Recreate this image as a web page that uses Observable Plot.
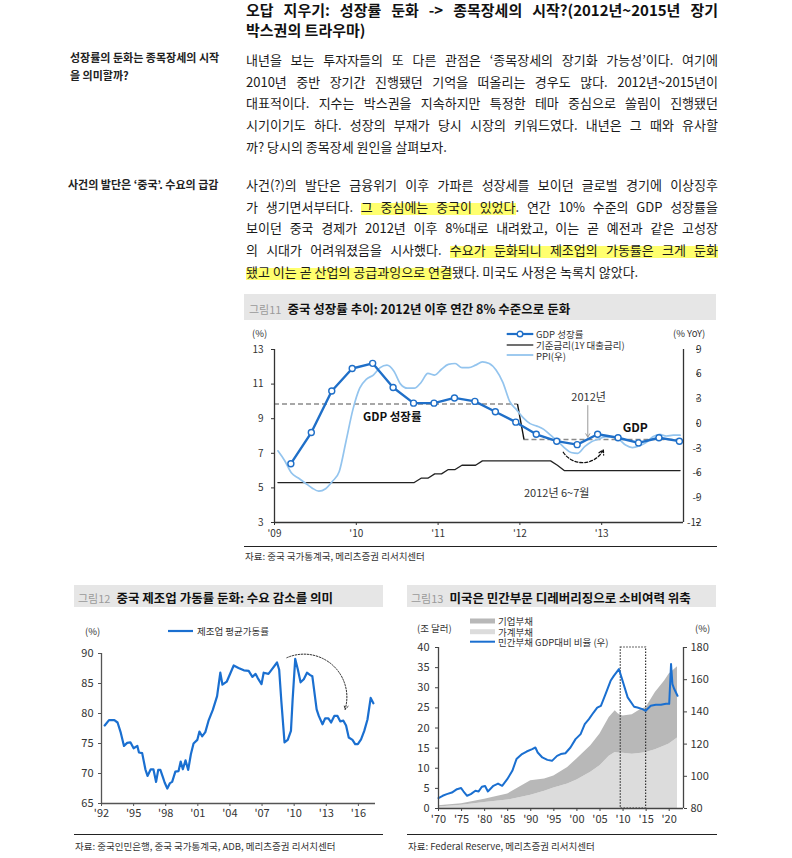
<!DOCTYPE html>
<html><head><meta charset="utf-8">
<script src="https://cdn.jsdelivr.net/npm/d3@7"></script>
<script src="https://cdn.jsdelivr.net/npm/@observablehq/plot@0.6"></script>
<style>
body{margin:0;background:#fff;font-family:"Noto Sans CJK KR","Noto Sans",sans-serif;color:#1a1a1a}
#page{position:relative;width:792px;height:858px;overflow:hidden;background:#fff}
.abs{position:absolute}
.title{left:246px;top:0px;width:472px;font-size:15px;font-weight:700;line-height:19.5px;color:#111}
.jl{text-align:justify;text-align-last:justify;white-space:nowrap}
.side{font-size:11px;font-weight:700;line-height:18.3px;color:#222;white-space:nowrap}
.para{left:246px;width:472px;font-size:13px;line-height:21.67px;color:#1a1a1a}
.para div{white-space:nowrap}
.hl{background:linear-gradient(transparent 30%,#ffff6e 30%,#ffff6e 96%,transparent 96%)}
.band{background:#e6e6e6}
.fig{color:#9a9a9a;font-size:11px}
.ft{font-weight:700;font-size:12.5px;color:#111;margin-left:6px}
.rule{height:0;border-top:1.3px solid #222}
.src{font-size:9.5px;color:#333;white-space:nowrap}
.lg{font-size:9.5px;color:#333;white-space:nowrap;line-height:10px}
</style></head>
<body><div id="page">

<div class="abs title"><div class="jl">오답 지우기: 성장률 둔화 -&gt; 종목장세의 시작?(2012년~2015년 장기</div><div>박스권의 트라우마)</div></div>

<div class="abs side" style="left:70px;top:47.5px">성장률의 둔화는 종목장세의 시작<br>을 의미할까?</div>
<div class="abs side" style="left:68px;top:175px">사건의 발단은 ‘중국’. 수요의 급감</div>

<div class="abs para" style="top:49px">
<div class="jl">내년을 보는 투자자들의 또 다른 관점은 ‘종목장세의 장기화 가능성’이다. 여기에</div>
<div class="jl">2010년 중반 장기간 진행됐던 기억을 떠올리는 경우도 많다. 2012년~2015년이</div>
<div class="jl">대표적이다. 지수는 박스권을 지속하지만 특정한 테마 중심으로 쏠림이 진행됐던</div>
<div class="jl">시기이기도 하다. 성장의 부재가 당시 시장의 키워드였다. 내년은 그 때와 유사할</div>
<div>까? 당시의 종목장세 원인을 살펴보자.</div>
</div>

<div class="abs para" style="top:174px">
<div class="jl">사건(?)의 발단은 금융위기 이후 가파른 성장세를 보이던 글로벌 경기에 이상징후</div>
<div class="jl">가 생기면서부터다. <span class="hl">그 중심에는 중국이 있었다</span>. 연간 10% 수준의 GDP 성장률을</div>
<div class="jl">보이던 중국 경제가 2012년 이후 8%대로 내려왔고, 이는 곧 예전과 같은 고성장</div>
<div class="jl">의 시대가 어려워졌음을 시사했다. <span class="hl">수요가 둔화되니 제조업의 가동률은 크게 둔화</span></div>
<div><span class="hl">됐고 이는 곧 산업의 공급과잉으로 연결</span>됐다. 미국도 사정은 녹록치 않았다.</div>
</div>

<!-- Figure 11 -->
<div class="abs band" style="left:244px;top:294px;width:472px;height:26px;line-height:26px;padding-left:5px;box-sizing:border-box"><span class="fig">그림11</span><span class="ft">중국 성장률 추이: 2012년 이후 연간 8% 수준으로 둔화</span></div>
<div id="c11" class="abs" style="left:244px;top:322px"></div>
<div class="abs lg" style="left:252px;top:328px">(%)</div>
<div class="abs lg" style="left:673px;top:328px">(% YoY)</div>
<svg class="abs" style="left:505px;top:328px" width="32" height="32">
  <line x1="1.7" x2="28.3" y1="6" y2="6" stroke="#1f6fc8" stroke-width="2.2"/>
  <circle cx="15" cy="6" r="2.8" fill="#fff" stroke="#1f6fc8" stroke-width="1.4"/>
  <line x1="1.7" x2="28.3" y1="17" y2="17" stroke="#222" stroke-width="1.3"/>
  <line x1="1.7" x2="28.3" y1="27" y2="27" stroke="#93c4ee" stroke-width="1.8"/>
</svg>
<div class="abs lg" style="left:536px;top:329px">GDP 성장률</div>
<div class="abs lg" style="left:536px;top:340px">기준금리(1Y 대출금리)</div>
<div class="abs lg" style="left:536px;top:350.5px">PPI(우)</div>
<div class="abs rule" style="left:244px;top:546px;width:473px"></div>
<div class="abs src" style="left:245px;top:549px">자료: 중국 국가통계국, 메리츠증권 리서치센터</div>

<!-- Figure 12 -->
<div class="abs band" style="left:74px;top:585px;width:309px;height:22px;line-height:22px;padding-left:4px;box-sizing:border-box"><span class="fig">그림12</span><span class="ft">중국 제조업 가동률 둔화: 수요 감소를 의미</span></div>
<div id="c12" class="abs" style="left:74px;top:620px"></div>
<div class="abs lg" style="left:85px;top:626px">(%)</div>
<svg class="abs" style="left:166px;top:626px" width="30" height="10"><line x1="2" x2="27" y1="5" y2="5" stroke="#1a6fd0" stroke-width="2.2"/></svg>
<div class="abs lg" style="left:197px;top:626px">제조업 평균가동률</div>
<div class="abs rule" style="left:74px;top:834px;width:309px"></div>
<div class="abs src" style="left:75px;top:839px">자료: 중국인민은행, 중국 국가통계국, ADB, 메리츠증권 리서치센터</div>

<!-- Figure 13 -->
<div class="abs band" style="left:407px;top:585px;width:309px;height:22px;line-height:22px;padding-left:4px;box-sizing:border-box"><span class="fig">그림13</span><span class="ft">미국은 민간부문 디레버리징으로 소비여력 위축</span></div>
<div id="c13" class="abs" style="left:406px;top:620px"></div>
<div class="abs lg" style="left:417px;top:623px">(조 달러)</div>
<div class="abs lg" style="left:695px;top:623px">(%)</div>
<svg class="abs" style="left:468px;top:614px" width="30" height="34">
  <rect x="2" y="4.5" width="25" height="5" fill="#b8b8b8"/>
  <rect x="2" y="15.2" width="25" height="5" fill="#dcdcdc"/>
  <line x1="2" x2="27" y1="27.7" y2="27.7" stroke="#1a6fd0" stroke-width="2"/>
</svg>
<div class="abs lg" style="left:498px;top:616px">기업부채</div>
<div class="abs lg" style="left:498px;top:626.7px">가계부채</div>
<div class="abs lg" style="left:498px;top:637px">민간부채 GDP대비 비율 (우)</div>
<div class="abs rule" style="left:407px;top:834px;width:310px"></div>
<div class="abs src" style="left:408px;top:839px">자료: Federal Reserve, 메리츠증권 리서치센터</div>

</div>
<script>
// ---------- Figure 11 data ----------
const gdpQuarters = ["2009Q1","2009Q2","2009Q3","2009Q4","2010Q1","2010Q2","2010Q3","2010Q4",
  "2011Q1","2011Q2","2011Q3","2011Q4","2012Q1","2012Q2","2012Q3","2012Q4","2013Q1","2013Q2","2013Q3","2013Q4"];
const gdpGrowth = [6.4,8.2,10.6,11.9, 12.2,10.8,9.9,9.9, 10.2,10.0,9.4,8.8, 8.1,7.7,7.5,8.1, 7.9,7.6,7.9,7.7];
// monthly, Jan 2009 - Dec 2013
const ppiYoY = [-3.3,-4.5,-6.0,-6.6,-7.2,-7.8,-8.2,-7.9,-7.0,-5.8,-2.1,1.7,
  4.3,5.4,5.9,6.8,7.1,6.4,4.8,4.3,4.3,5.0,6.1,5.9,
  6.6,7.2,7.3,6.8,6.8,7.1,7.5,7.3,6.5,5.0,2.7,1.7,
  0.7,0.0,-0.3,-0.7,-1.4,-2.1,-2.9,-3.5,-3.6,-2.8,-2.2,-1.9,
  -1.6,-1.6,-1.9,-2.6,-2.9,-2.7,-2.3,-1.6,-1.3,-1.5,-1.4,-1.4];
const loanRate = [5.31,5.31,5.31,5.31,5.31,5.31,5.31,5.31,5.31,5.31,5.31,5.31,
  5.31,5.31,5.31,5.31,5.31,5.31,5.31,5.31,5.31,5.56,5.56,5.81,
  5.81,6.06,6.06,6.31,6.31,6.31,6.56,6.56,6.56,6.56,6.56,6.56,
  6.56,6.56,6.56,6.56,6.56,6.31,6.00,6.00,6.00,6.00,6.00,6.00,
  6.00,6.00,6.00,6.00,6.00,6.00,6.00,6.00,6.00,6.00,6.00,6.00];
const avgLevels = [{from:2009, to:2011.97, value:9.85}, {from:2012.05, to:2014, value:7.8}];
const levelShift = [{x1:2011.97, y1:9.85, x2:2012.05, y2:7.8}];
const arrowDown = [{x1:2012.83, y1:9.76, x2:2012.83, y2:7.93}];
const reboundArrow = [{x1:2012.53, y1:7.06, x2:2013.02, y2:7.2}];
const boldNotes11 = [{x:2010.44, y:9.07, text:"GDP 성장률", size:11.5}, {x:2013.41, y:8.45, text:"GDP", size:12}];
const plainNotes11 = [{x:2012.84, y:10.24, text:"2012년"}, {x:2012.45, y:4.66, text:"2012년 6~7월"}];
const xTicks11 = [2009,2010,2011,2012,2013];
const leftTicks11 = [3,5,7,9,11,13];
const rightTicks11 = [-12,-9,-6,-3,0,3,6,9];

// ---------- Figure 12 data ----------
const utilPeriod = [1992.3,1992.7,1993.2,1993.5,1993.8,1994.1,1994.4,1994.7,1995.0,1995.35,1995.5,1995.8,
  1996.1,1996.3,1996.6,1996.85,1997.1,1997.3,1997.5,1997.75,1997.9,1998.15,1998.4,1998.6,1998.9,
  1999.2,1999.4,1999.6,1999.85,2000.1,2000.35,2000.6,2000.95,2001.15,2001.4,2001.7,2002.0,2002.4,
  2002.8,2003.1,2003.3,2003.7,2004.35,2004.8,2005.3,2005.75,2006.1,2006.4,2006.6,2006.95,2007.15,
  2007.6,2007.9,2008.4,2008.6,2008.8,2009.1,2009.4,2009.7,2009.85,2010.1,2010.35,2010.6,2010.9,
  2011.2,2011.5,2011.7,2012.1,2012.3,2012.65,2012.9,2013.2,2013.45,2013.75,2014.05,2014.3,2014.6,
  2014.85,2015.1,2015.45,2015.7,2015.95,2016.25,2016.55,2016.85,2017.15,2017.4];
const utilRate = [78.0,78.9,78.9,78.5,76.8,74.6,75.1,75.2,74.2,74.6,73.5,73.4,
  70.7,69.6,70.7,70.7,68.6,70.6,70.6,69.3,68.5,67.5,68.4,68.6,70.3,
  70.4,72.0,70.7,72.2,70.6,73.2,75.0,75.6,77.0,76.2,76.9,78.8,80.6,
  82.9,86.8,84.8,85.3,88.0,87.6,87.2,87.1,86.1,86.6,85.9,84.9,86.8,
  86.6,87.3,88.5,87.3,82.1,75.2,75.6,77.1,82.1,89.1,87.3,85.2,85.7,
  86.8,86.4,86.2,80.7,79.6,78.2,79.2,79.2,78.5,79.6,79.6,78.7,78.8,
  78.0,76.0,75.6,74.9,74.9,75.7,77.1,79.0,82.6,81.7];
const trendArrow = [{x1:2009.32, y1:89.3, x2:2014.76, y2:80.7}];
const xTicks12 = [1992,1995,1998,2001,2004,2007,2010,2013,2016];
const yTicks12 = [65,70,75,80,85,90];

// ---------- Figure 13 data ----------
const debtYears = [1970,1975,1980,1985,1988,1990,1993,1995,1998,2000,2003,2005,2007,2008.3,2009,2010,2012,2014,2015,2017,2019,2020,2021.8];
const householdDebt = [0.4,0.8,1.5,2.1,2.8,3.3,4.3,5.1,6.1,7.1,9.0,10.6,13.0,13.9,13.8,13.7,13.5,13.7,13.9,14.6,15.5,16.0,17.5];
const corporateDebt = [0.3,0.4,0.8,1.5,2.8,3.6,3.0,3.0,4.1,5.2,6.6,7.9,9.6,10.4,9.7,9.3,9.8,11.0,11.2,14.2,16.2,17.4,17.7];
const ratioPeriod = [1970.0,1970.9,1971.8,1972.9,1974.0,1974.9,1975.4,1976.2,1977.0,1978.0,1978.7,1979.4,1980.1,1980.7,
  1981.9,1982.9,1983.8,1984.9,1986.0,1986.9,1988.1,1989.1,1990.3,1991.0,1991.5,1992.5,1993.6,1994.6,1995.7,1996.5,
  1997.5,1998.6,1999.7,2000.8,2001.7,2002.6,2003.6,2004.4,2005.2,2006.2,2007.3,2008.0,2009.1,2009.9,2011.0,2012.4,
  2013.1,2014.2,2014.9,2016.0,2017.1,2018.2,2019.3,2020.0,2020.4,2020.7,2021.1,2021.8];
const privateDebtRatio = [86.5,87.9,88.9,89.9,92.0,92.7,90.7,87.9,88.9,91.0,90.6,93.5,94.0,90.6,
  94.1,95.5,94.1,98.2,103.4,110.7,113.8,115.4,116.9,117.9,114.8,111.7,110.2,109.6,112.7,113.8,
  114.3,117.9,123.1,126.2,132.4,135.5,139.6,142.7,143.8,151.0,159.3,162.4,166.6,159.3,149.0,143.2,
  142.7,141.7,140.7,143.8,144.4,144.4,145.0,145.0,169.7,157.3,154.2,150.0];
const boxPeriod = [{from:2009.5, to:2015.0, lo:0, hi:40}];
const xTicks13 = [1970,1975,1980,1985,1990,1995,2000,2005,2010,2015,2020];
const leftTicks13 = [0,5,10,15,20,25,30,35,40];
const rightTicks13 = [80,100,120,140,160,180];

// ---------- helpers ----------
const FONT = '"Noto Sans CJK KR","Noto Sans",sans-serif';
const yr = d => "'" + String(d).slice(2);
const baseStyle = {fontFamily: FONT, fontSize: "10px", color: "#333", background: "transparent", overflow: "visible"};

// ---------- Figure 11 ----------
const toLeft11 = r => 3 + (r + 12) * 10 / 21;
const fromLeft11 = l => Math.round((l - 3) * 21 / 10 - 12);
const gdpRows = gdpQuarters.map((q, i) => ({t: +q.slice(0, 4) + (+q.slice(5) - 1) * 0.25 + 0.2, v: gdpGrowth[i]}));
const ppiRows = ppiYoY.map((v, i) => ({t: 2009 + (i + 0.5) / 12, v: toLeft11(v)}));
const rateRows = loanRate.map((v, i) => ({t: 2009 + (i + 0.5) / 12, v}));
const GDPC = "#1f6fc8";
const axisC = "#333";

const c11 = Plot.plot({
  width: 472, height: 218, marginLeft: 30, marginRight: 33, marginTop: 27, marginBottom: 18,
  style: baseStyle,
  x: {domain: [2009, 2014]},
  y: {domain: [3, 13]},
  marks: [
    Plot.ruleY(avgLevels, {y: "value", x1: "from", x2: "to", stroke: "#8a8a8a", strokeWidth: 1.6, strokeDasharray: "5,3"}),
    Plot.link(levelShift, {x1: "x1", y1: "y1", x2: "x2", y2: "y2", stroke: "#111", strokeWidth: 1.4}),
    Plot.line(rateRows, {x: "t", y: "v", stroke: "#222", strokeWidth: 1.3}),
    Plot.line(ppiRows, {x: "t", y: "v", stroke: "#93c4ee", strokeWidth: 1.7, curve: "monotone-x"}),
    Plot.line(gdpRows, {x: "t", y: "v", stroke: GDPC, strokeWidth: 2.4}),
    Plot.dot(gdpRows, {x: "t", y: "v", r: 3, fill: "#fff", stroke: GDPC, strokeWidth: 1.4}),
    Plot.arrow(arrowDown, {x1: "x1", y1: "y1", x2: "x2", y2: "y2", stroke: "#9a9a9a", strokeWidth: 1, headLength: 6}),
    Plot.arrow(reboundArrow, {x1: "x1", y1: "y1", x2: "x2", y2: "y2", bend: -60, stroke: "#111", strokeWidth: 1.3, strokeDasharray: "3,2", headLength: 6}),
    Plot.text(boldNotes11, {x: "x", y: "y", text: "text", fontSize: "size", fontWeight: 700, fill: "#111"}),
    Plot.text(plainNotes11, {x: "x", y: "y", text: "text", fontSize: 11, fill: "#333"}),
    Plot.ruleX([2009], {stroke: axisC, strokeWidth: 1.3}),
    Plot.ruleX([2014], {stroke: axisC, strokeWidth: 1.3}),
    Plot.ruleY([3], {stroke: axisC, strokeWidth: 1.3}),
    Plot.axisX({ticks: xTicks11, tickFormat: yr, tickSize: 3, tickPadding: 4, stroke: axisC}),
    Plot.axisY({ticks: leftTicks11, tickSize: 3, tickPadding: 8, stroke: axisC}),
    Plot.axisY(rightTicks11.map(toLeft11), {anchor: "right", tickFormat: fromLeft11, tickSize: 3, tickPadding: 3, textAnchor: "end", dx: 12, stroke: axisC})
  ]
});
document.getElementById("c11").append(c11);

// ---------- Figure 12 ----------
const utilRows = utilPeriod.map((t, i) => ({t, v: utilRate[i]}));
const c12 = Plot.plot({
  width: 309, height: 202, marginLeft: 27, marginRight: 8, marginTop: 33, marginBottom: 19,
  style: {...baseStyle, fontSize: "11px"},
  x: {domain: [1992, 2017.6]},
  y: {domain: [65, 90]},
  marks: [
    Plot.line(utilRows, {x: "t", y: "v", stroke: "#1a6fd0", strokeWidth: 2.2}),
    Plot.arrow(trendArrow, {x1: "x1", y1: "y1", x2: "x2", y2: "y2", bend: 65, stroke: "#111", strokeWidth: 0.9, strokeDasharray: "1.5,1.5", headLength: 7}),
    Plot.ruleX([1992], {stroke: "#555", strokeWidth: 1.3}),
    Plot.ruleY([65], {stroke: "#555", strokeWidth: 1.3}),
    Plot.axisX({ticks: xTicks12, tickFormat: yr, tickSize: 3, tickPadding: 3, stroke: "#555"}),
    Plot.axisY({ticks: yTicks12, tickSize: 3, tickPadding: 5, stroke: "#555"})
  ]
});
document.getElementById("c12").append(c12);

// ---------- Figure 13 ----------
const toLeft13 = r => (r - 80) * 0.4;
const fromLeft13 = l => Math.round(l / 0.4 + 80);
const debtLong = debtYears.flatMap((y, i) => [
  {year: y, type: "가계부채", value: householdDebt[i]},
  {year: y, type: "기업부채", value: corporateDebt[i]}
]);
const ratioRows = ratioPeriod.map((t, i) => ({t, v: toLeft13(privateDebtRatio[i])}));
const c13 = Plot.plot({
  width: 310, height: 210, marginLeft: 32, marginRight: 33, marginTop: 27, marginBottom: 22,
  style: {...baseStyle, fontSize: "11px"},
  x: {domain: [1970, 2023.1]},
  y: {domain: [0, 40]},
  color: {domain: ["가계부채", "기업부채"], range: ["#dcdcdc", "#b8b8b8"]},
  marks: [
    Plot.areaY(debtLong, {x: "year", y: "value", fill: "type", order: ["가계부채", "기업부채"]}),
    Plot.rect(boxPeriod, {x1: "from", x2: "to", y1: "lo", y2: "hi", fill: "none", stroke: "#333", strokeWidth: 1.2, strokeDasharray: "1.5,1.5"}),
    Plot.line(ratioRows, {x: "t", y: "v", stroke: "#1a6fd0", strokeWidth: 2}),
    Plot.ruleX([1970], {stroke: "#444", strokeWidth: 1.3}),
    Plot.ruleX([2023.1], {stroke: "#444", strokeWidth: 1.3}),
    Plot.ruleY([0], {stroke: "#444", strokeWidth: 1.3}),
    Plot.axisX({ticks: xTicks13, tickFormat: yr, tickSize: 3, tickPadding: 4, stroke: "#444"}),
    Plot.axisY({ticks: leftTicks13, tickSize: 3, tickPadding: 6, stroke: "#444"}),
    Plot.axisY(rightTicks13.map(toLeft13), {anchor: "right", tickFormat: fromLeft13, tickSize: 3, tickPadding: 4, stroke: "#444"})
  ]
});
document.getElementById("c13").append(c13);
</script>
</body></html>
